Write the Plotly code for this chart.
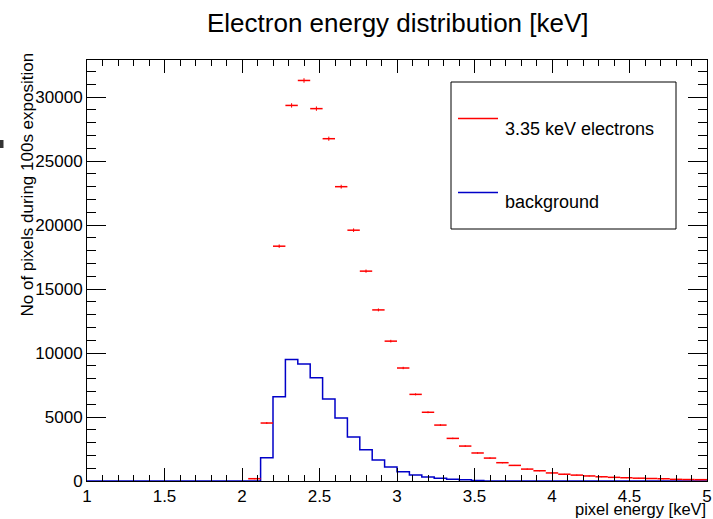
import numpy as np
import plotly.graph_objects as go

# ---------------- data ----------------
bin_start = 1.0
bin_width = 0.08
n_bins = 50

# background histogram (blue), one value per bin starting at 1.0
background_counts = [0] * 14 + [
    1820, 6590, 9500, 9140, 8070, 6410, 4920, 3440, 2450, 1640,
    1100, 730, 470, 310, 210, 130, 90, 30,
] + [0] * 18

# 3.35 keV electrons (red), bins 13..49 (centres 2.08 .. 4.96)
electron_first_bin = 13
electron_counts = [
    180, 4530, 18350, 29350, 31300, 29100, 26750, 23000, 19600, 16400,
    13370, 10930, 8830, 6770, 5370, 4370, 3330, 2730, 2190, 1790,
    1430, 1220, 930, 800, 630, 530, 460, 395, 330, 285,
    255, 220, 195, 175, 130, 115, 105,
]

title_text = "Electron energy distribution [keV]"
x_title = "pixel energy [keV]"
y_title = "No of pixels during 100s exposition"
legend_labels = ["3.35 keV electrons", "background"]

# ---------------- derived ----------------
edges = bin_start + bin_width * np.arange(n_bins + 1)
centres = edges[:-1] + bin_width / 2
bg_y = list(background_counts) + [background_counts[-1]]
el_x = centres[electron_first_bin:electron_first_bin + len(electron_counts)]
el_y = np.array(electron_counts, dtype=float)

# pixel -> paper helpers (plot area 87..707 x 60..481)
L, R, T, B = 87, 707, 60, 481
def px(x):
    return (x - L) / (R - L)
def py(y):
    return (B - y) / (B - T)

FONT = "Liberation Sans, Arial, sans-serif"
RED = "#ff0000"
BLUE = "#0000c8"

fig = go.Figure()

fig.add_trace(go.Scatter(
    x=edges, y=bg_y, mode="lines", line=dict(color=BLUE, width=1.5, shape="hv"),
    showlegend=False, hoverinfo="skip",
))

fig.add_trace(go.Scatter(
    x=el_x, y=el_y, mode="markers",
    marker=dict(size=1, color=RED),
    error_x=dict(type="constant", value=bin_width / 2, color=RED, thickness=1.5, width=0),
    error_y=dict(type="data", array=np.sqrt(el_y), color=RED, thickness=1, width=0),
    showlegend=False, hoverinfo="skip",
))

axis_common = dict(
    showline=True, linecolor="black", linewidth=1, mirror="ticks",
    ticks="inside", tickcolor="black", tickwidth=1,
    showgrid=False, zeroline=False,
    tickfont=dict(family=FONT, size=17, color="black"),
)

fig.update_xaxes(
    range=[1, 5], dtick=0.5, tick0=1, ticklen=12.6,
    minor=dict(ticks="inside", dtick=0.1, ticklen=6.3, tickcolor="black", showgrid=False),
    **axis_common,
)
fig.update_yaxes(
    range=[0, 32900], dtick=5000, tick0=0, ticklen=18.6, tickformat="d",
    minor=dict(ticks="inside", dtick=1000, ticklen=9.3, tickcolor="black", showgrid=False),
    **axis_common,
)

shapes = [
    # legend box
    dict(type="rect", xref="paper", yref="paper", x0=px(451), x1=px(676),
         y0=py(229), y1=py(82), line=dict(color="black", width=1), fillcolor="white", layer="above"),
    dict(type="line", xref="paper", yref="paper", x0=px(458), x1=px(498),
         y0=py(118.5), y1=py(118.5), line=dict(color=RED, width=1.5)),
    dict(type="line", xref="paper", yref="paper", x0=px(458), x1=px(498),
         y0=py(192.5), y1=py(192.5), line=dict(color=BLUE, width=1.5)),
    # small mark at the left edge
    dict(type="rect", xref="paper", yref="paper", x0=px(0), x1=px(3.5),
         y0=py(148), y1=py(140), line=dict(width=0), fillcolor="#333333"),
]

annotations = [
    dict(text=title_text, xref="paper", yref="paper", x=px(398), y=py(23),
         xanchor="center", yanchor="middle", showarrow=False,
         font=dict(family=FONT, size=26, color="black")),
    dict(text=x_title, xref="paper", yref="paper", x=px(708), y=py(509.5),
         xanchor="right", yanchor="middle", showarrow=False,
         font=dict(family=FONT, size=16.5, color="black")),
    dict(text=y_title, xref="paper", yref="paper", x=px(26.5), y=py(185),
         xanchor="center", yanchor="middle", showarrow=False, textangle=-90,
         font=dict(family=FONT, size=17, color="black")),
    dict(text=legend_labels[0], xref="paper", yref="paper", x=px(503), y=py(128.5),
         xanchor="left", yanchor="middle", showarrow=False,
         font=dict(family=FONT, size=18, color="black")),
    dict(text=legend_labels[1], xref="paper", yref="paper", x=px(503), y=py(202),
         xanchor="left", yanchor="middle", showarrow=False,
         font=dict(family=FONT, size=18, color="black")),
]

fig.update_layout(
    width=713, height=519,
    margin=dict(l=L, r=713 - R, t=T, b=519 - B, autoexpand=False),
    paper_bgcolor="white", plot_bgcolor="white",
    shapes=shapes, annotations=annotations,
    showlegend=False,
)

fig.write_html(
    "out.html",
    config={"displayModeBar": False},
    post_script="document.body.style.margin='0px';document.body.style.overflow='hidden';",
)
